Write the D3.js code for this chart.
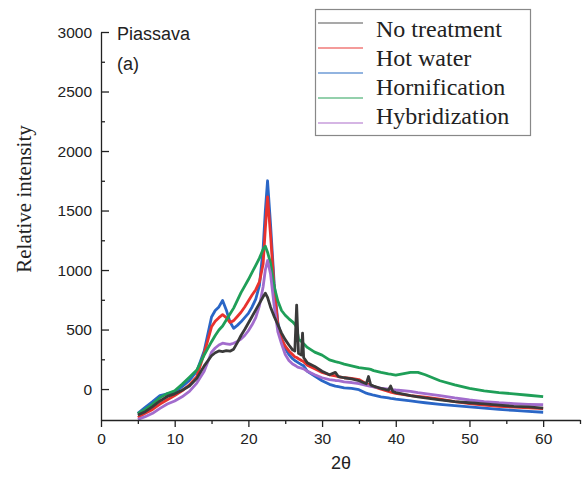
<!DOCTYPE html>
<html>
<head>
<meta charset="utf-8">
<script src="https://cdn.jsdelivr.net/npm/d3@7"></script>
<style>
  html, body { margin: 0; padding: 0; background: #fff; }
  svg { display: block; }
</style>
</head>
<body>
<div id="chart"></div>
<script>
// ---- data ----
const twoTheta = [5,6,7,8,9,10,11,12,13,14,15,15.5,16,16.5,17,17.5,18,18.5,19,19.5,20,20.5,21,21.5,22,22.3,22.6,23,23.5,24,24.5,25,25.5,26,26.3,26.55,26.8,27.2,27.35,27.5,28,29,30,31,31.8,32.2,33,34,35,36,36.3,36.6,37,38,39,39.3,39.6,40,42,43,44,46,48,50,52,54,56,58,60];

const grayValues = [-218,-190,-148,-100,-62,-40,-10,25,90,195,280,305,320,315,322,318,335,390,450,500,555,610,665,720,775,805,770,690,610,540,470,415,370,330,320,705,300,285,470,265,220,190,150,120,140,105,95,85,70,45,105,35,25,5,-10,25,-20,-30,-55,-65,-75,-90,-105,-115,-125,-135,-145,-150,-160];

const redValues = [-238,-204,-171,-126,-90,-55,-15,35,105,300,523,570,600,625,600,560,575,610,645,690,740,790,835,900,1050,1350,1615,1300,850,540,420,360,320,290,270,265,255,240,235,230,200,170,140,120,110,105,95,90,80,45,40,30,20,0,-20,-25,-30,-36,-55,-62,-68,-85,-105,-122,-135,-145,-152,-158,-165];

const blueValues = [-205,-154,-106,-55,-40,-25,20,72,150,320,605,660,690,745,665,565,510,535,565,600,636,690,755,870,1180,1500,1750,1390,890,560,430,340,290,255,240,230,220,205,200,195,150,110,70,40,25,20,10,5,-5,-35,-40,-45,-52,-65,-75,-78,-80,-85,-100,-108,-115,-128,-140,-150,-160,-170,-180,-188,-195];

const greenValues = [-205,-171,-126,-72,-38,-15,40,100,160,286,398,450,496,530,580,630,680,745,810,865,920,980,1040,1100,1175,1200,1150,1060,860,740,660,620,590,565,545,520,420,400,390,380,350,310,285,245,230,225,210,195,180,172,170,165,155,140,128,125,122,118,140,140,120,70,35,5,-15,-30,-40,-52,-64];

const purpleValues = [-255,-232,-204,-162,-126,-100,-65,-20,50,150,310,345,370,385,380,375,385,400,420,450,490,540,600,700,860,1000,1080,970,700,480,380,290,240,210,200,190,182,175,172,170,150,120,95,80,72,70,60,55,45,30,26,22,18,8,0,-2,-5,-8,-20,-30,-38,-55,-75,-92,-105,-115,-122,-128,-132];

const legendLabels = ["No treatment", "Hot water", "Hornification", "Hybridization"];
const xTicks = [0, 10, 20, 30, 40, 50, 60];
const yTicks = [0, 500, 1000, 1500, 2000, 2500, 3000];

// ---- layout ----
const W = 587, H = 479;
const mLeft = 101, mRight = 580, mTop = 32, mBottom = 420;

const svg = d3.select("#chart").append("svg")
  .attr("width", W).attr("height", H);

const x = d3.scaleLinear().domain([0, 65]).range([mLeft, mRight]);
const y = d3.scaleLinear().domain([-260, 3000]).range([mBottom, mTop]);

const series = [
  { values: blueValues,   color: "#2a66c6" },
  { values: redValues,    color: "#e8322e" },
  { values: greenValues,  color: "#1f9f58" },
  { values: purpleValues, color: "#a26ccd" },
  { values: grayValues,   color: "#3a3a3a" }
];

const line = d3.line()
  .x((d, i) => x(twoTheta[i]))
  .y(d => y(d));

const plot = svg.append("g");
series.forEach(s => {
  plot.append("path")
    .datum(s.values)
    .attr("fill", "none")
    .attr("stroke", s.color)
    .attr("stroke-width", 2.8)
    .attr("stroke-linejoin", "round")
    .attr("d", line);
});

// ---- axes ----
const tickFont = "Liberation Sans, Arial, sans-serif";

// x axis
const xAxisG = svg.append("g").attr("transform", `translate(0,${mBottom})`);
xAxisG.append("g")
  .call(d3.axisBottom(x).tickValues(d3.range(5, 66, 10)).tickSize(4).tickFormat(""))
  .call(g => g.select(".domain").remove());
xAxisG.append("g")
  .call(d3.axisBottom(x).tickValues(xTicks).tickSize(7).tickSizeOuter(0).tickPadding(6))
  .call(g => g.selectAll("text").attr("font-family", tickFont).attr("font-size", 15.5).attr("fill", "#222"));
xAxisG.selectAll("line, path").attr("stroke", "#222").attr("stroke-width", 1.3);

// y axis (ticks point inward)
const yAxisG = svg.append("g").attr("transform", `translate(${mLeft},0)`);
yAxisG.append("g")
  .call(d3.axisRight(y).tickValues(d3.range(250, 3000, 500)).tickSize(4).tickFormat(""))
  .call(g => g.select(".domain").remove());
yAxisG.append("g")
  .call(d3.axisRight(y).tickValues(yTicks).tickSize(8).tickSizeOuter(0).tickFormat(""));
yAxisG.selectAll("line, path").attr("stroke", "#222").attr("stroke-width", 1.3);
yAxisG.append("g").selectAll("text")
  .data(yTicks).join("text")
  .attr("x", -9).attr("y", d => y(d))
  .attr("text-anchor", "end")
  .attr("dominant-baseline", "central")
  .attr("font-family", tickFont).attr("font-size", 15.5).attr("fill", "#222")
  .text(d => d);

// axis titles
svg.append("text")
  .attr("x", 341).attr("y", 469)
  .attr("text-anchor", "middle")
  .attr("font-family", tickFont).attr("font-size", 18).attr("fill", "#222")
  .text("2θ");

svg.append("text")
  .attr("transform", `translate(31,199) rotate(-90)`)
  .attr("text-anchor", "middle")
  .attr("font-family", "Liberation Serif, Times New Roman, serif").attr("font-size", 21).attr("fill", "#222")
  .text("Relative intensity");

// panel labels
svg.append("text").attr("x", 117).attr("y", 40)
  .attr("font-family", tickFont).attr("font-size", 18).attr("fill", "#222").text("Piassava");
svg.append("text").attr("x", 117).attr("y", 70)
  .attr("font-family", tickFont).attr("font-size", 18).attr("fill", "#222").text("(a)");

// ---- legend ----
const legend = svg.append("g");
legend.append("rect")
  .attr("x", 315.5).attr("y", 9.5).attr("width", 215).attr("height", 126)
  .attr("fill", "#fff").attr("stroke", "#888").attr("stroke-width", 1.2);

const legendColors = ["#8c8c8c", "#f07a78", "#6e9bd6", "#70c091", "#c79ddb"];
const legendLineY = d3.scaleLinear().domain([0, 4]).range([23, 123]);
legend.selectAll("line.lg")
  .data(legendColors).join("line")
  .attr("class", "lg")
  .attr("x1", 318).attr("x2", 363)
  .attr("y1", (d, i) => legendLineY(i)).attr("y2", (d, i) => legendLineY(i))
  .attr("stroke", d => d).attr("stroke-width", 1.6);

const legendTextY = d3.scaleLinear().domain([0, 3]).range([37, 124]);
legend.selectAll("text.lt")
  .data(legendLabels).join("text")
  .attr("class", "lt")
  .attr("x", 376).attr("y", (d, i) => legendTextY(i))
  .attr("font-family", "Liberation Serif, Times New Roman, serif")
  .attr("font-size", 24).attr("fill", "#222")
  .text(d => d);
</script>
</body>
</html>
